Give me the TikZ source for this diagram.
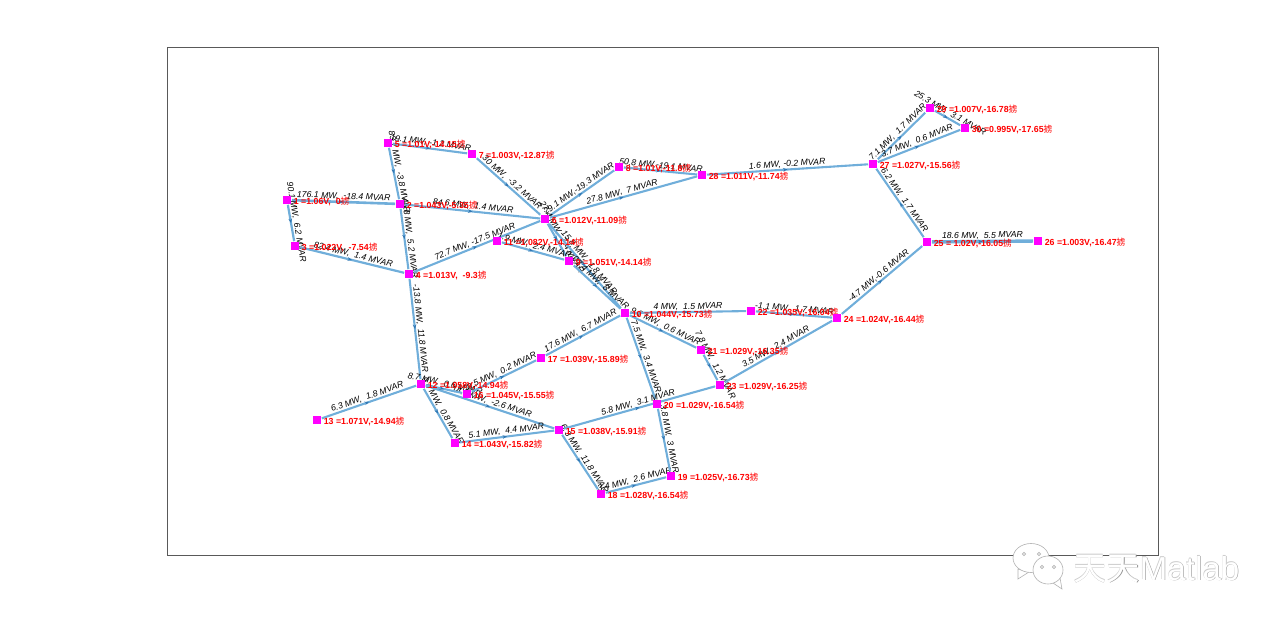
\documentclass[tikz,border=0pt]{standalone}
\usepackage{fontspec}
\setmainfont{Liberation Sans}
\newfontfamily\cjkfont{Noto Sans CJK SC}
\usetikzlibrary{positioning, arrows.meta, decorations.markings, backgrounds}
\definecolor{linkblue}{RGB}{112,174,218}
\definecolor{tipblue}{RGB}{50,120,180}
\definecolor{busmagenta}{RGB}{255,0,255}
\newcommand{\busdeg}{{\cjkfont\fontseries{m}\selectfont 掳}}
\tikzset{
    bus/.style={fill=busmagenta, draw=none, minimum size=4.4pt, inner sep=0pt},
    buslabel/.style={text=red, yshift=-0.7pt, font=\fontsize{4.4}{5}\bfseries\selectfont, inner sep=0pt},
    flowlabel/.style={midway, sloped, above, inner sep=0.3pt, font=\fontsize{4.35}{5}\itshape\selectfont},
    link/.style={draw=linkblue, postaction={decorate}, decoration={markings, mark=at position 0.5 with {\arrow[tipblue]{Stealth[length=2.2pt, width=1.8pt]}}}},
    wmtext/.style={inner sep=0pt, font=\fontsize{16.6}{18}\selectfont},
    wmbubble/.style={draw=black!30, fill=white, line width=0.3pt}
}
\begin{document}
\begin{tikzpicture}[x=0.5pt, y=-0.5pt]
    \useasboundingbox (0,0) rectangle (1280,625);
    \foreach \n/\x/\y/\v in {1/287/200/{1.06V,~~0},2/400/204/{1.043V,-5.35},3/295/246/{1.022V,~~-7.54},4/409/274/{1.013V,~~-9.3},
        5/388/143/{1.01V,-14.15},6/545/219/{1.012V,-11.09},7/472/154/{1.003V,-12.87},8/619/167/{1.01V,-11.8},
        9/569/261/{1.051V,-14.14},10/625/313/{1.044V,-15.73},11/497/241/{1.082V,-14.14},12/421/384/{1.058V,-14.94},
        13/317/420/{1.071V,-14.94},14/455/443/{1.043V,-15.82},15/559/430/{1.038V,-15.91},16/467/394/{1.045V,-15.55},
        17/541/358/{1.039V,-15.89},18/601/494/{1.028V,-16.54},19/671/476/{1.025V,-16.73},20/657/404/{1.029V,-16.54},
        21/701/350/{1.029V,-16.35},22/751/311/{1.035V,-16.04},23/720/385/{1.029V,-16.25},24/837/318/{1.024V,-16.44},
        25/927/242/{~1.02V,-16.05},26/1038/241/{1.003V,-16.47},27/873/164/{1.027V,-15.56},28/702/175/{1.011V,-11.74},
        29/930/108/{1.007V,-16.78},30/965/128/{0.995V,-17.65}}{
        \node[bus] (b\n) at (\x,\y) {};
        \node[buslabel, right=0.8pt of b\n] (t\n) {\n\ =\v\busdeg};
    }
    \begin{pgfonlayer}{background}
        \node[draw=black!65, line width=0.3pt, inner sep=0pt, minimum width=495.5pt, minimum height=254pt, anchor=north west] (frame) at (167,47) {};
        \foreach \a/\b/\w/\txt in {1/2/1.3/{176.1 MW,~~-18.4 MVAR},1/3/1.1/{90.1 MW,~~6.2 MVAR},3/4/1.1/{82.4 MW,~~1.4 MVAR},
            2/4/1.05/{45.8 MW,~~5.2 MVAR},5/2/1.05/{83.7 MW,~~-3.8 MVAR},2/6/1.05/{84.6 MW,~~1.4 MVAR},4/6/1.05/{72.7 MW,~-17.5 MVAR},
            5/7/1.05/{19.1 MW,~-1.2 MVAR},7/6/1.05/{30 MW,~~-3.2 MVAR},6/8/1.05/{29.1 MW,-19.3 MVAR},6/9/1.05/{27.4 MW,~~7.4 MVAR},
            6/10/1.05/{15.8 MW,~~1.8 MVAR},9/10/1.05/{27.4 MW,~~8 MVAR},11/9/1.05/{1.9 MW,~~2.4 MVAR},4/12/1.05/{-13.8 MW,~~11.8 MVAR},
            13/12/1.05/{6.3 MW,~~1.8 MVAR},12/14/1.05/{9.4 MW,~~0.8 MVAR},12/15/1.05/{14.6 MW,~~-2.6 MVAR},12/16/1.05/{8.7 MW,~~0.6 MVAR},
            14/15/1.05/{5.1 MW,~~4.4 MVAR},16/17/1.05/{8.5 MW,~~0.2 MVAR},17/10/1.05/{17.6 MW,~~6.7 MVAR},15/18/1.05/{6.3 MW,~~11.8 MVAR},
            18/19/1.05/{3.4 MW,~~2.6 MVAR},20/19/1.05/{3.8 MW,~~3 MVAR},10/20/1.05/{7.5 MW,~~3.4 MVAR},15/23/1.05/{5.8 MW,~~3.1 MVAR},
            10/21/1.05/{9.2 MW,~~0.6 MVAR},21/23/1.05/{7.8 MW,~~1.2 MVAR},10/22/1.05/{4 MW,~~1.5 MVAR},22/24/1.05/{-1.1 MW,~~1.7 MVAR},
            23/24/1.05/{3.5 MW,~~2.4 MVAR},24/25/1.05/{-4.7 MW,-0.6 MVAR},25/26/1.7/{18.6 MW,~~5.5 MVAR},25/27/1.05/{6.2 MW,~~1.7 MVAR},
            28/27/1.05/{1.6 MW,~-0.2 MVAR},27/29/1.05/{7.1 MW,~~1.7 MVAR},27/30/1.05/{3.7 MW,~~0.6 MVAR},29/30/1.05/{25.3 MW,~~3.1 MVAR},
            8/28/1.05/{50.8 MW,-19.1 MVAR},6/28/1.05/{27.8 MW,~~7 MVAR}}{
            \draw[link, line width=\w pt] (b\a) -- node[flowlabel] (f\a-\b) {\txt} (b\b);
        }
    \end{pgfonlayer}
    % watermark
    \path[wmbubble] (1018,569) -- (1018,579) -- (1029,572) -- cycle;
    \path[wmbubble] (1031,558) ellipse [x radius=18, y radius=14.5];
    \path[wmbubble] (1053,583) -- (1062,589) -- (1060,578) -- cycle;
    \path[wmbubble] (1048,570) ellipse [x radius=15, y radius=14];
    \path[wmbubble, fill=none] (1024,554) circle [radius=1.6] (1039,554) circle [radius=1.6] (1042,567) circle [radius=1.6] (1054,567) circle [radius=1.6];
    \node[wmtext, text=black!45, anchor=west] (wma) at (1073.5,569.5) {{\cjkfont 天天}Matlab};
    \node[wmtext, text=black!20, anchor=west] (wmb) at (1072.6,568.5) {{\cjkfont 天天}Matlab};
    \node[wmtext, text=white, anchor=west] (wmc) at (1073,569) {{\cjkfont 天天}Matlab};
\end{tikzpicture}
\end{document}
